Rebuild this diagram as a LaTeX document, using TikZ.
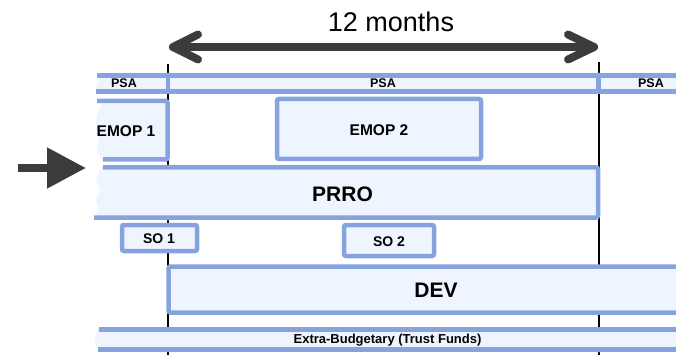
\documentclass[tikz,border=0pt]{standalone}
\usepackage{fontspec}
\setmainfont{Liberation Sans}
\usetikzlibrary{arrows.meta}
\definecolor{edge}{RGB}{134,163,224}
\definecolor{pale}{RGB}{238,245,254}
\definecolor{ink}{RGB}{60,60,60}

\begin{document}
\begin{tikzpicture}[x=1pt,y=-1pt,
  bar/.style={draw=edge,line width=4.5pt,fill=pale,rounded corners=2pt},
  rim/.style={draw=edge,line width=4.5pt,rounded corners=2pt},
  lbl/.style={font=\bfseries\fontsize{#1}{#1}\selectfont,inner sep=0pt,anchor=center},
  guide/.style={black,line width=1.3pt},
  span/.style={ink,line width=8pt,line cap=round,line join=round}]
\useasboundingbox (0,0) rectangle (676,355);

% year boundaries
\coordinate (g1t) at (168,64);  \coordinate (g1b) at (168,356);
\coordinate (g2t) at (599,62);  \coordinate (g2b) at (599,356);
\draw[guide] (g1t) -- (g1b);
\draw[guide] (g2t) -- (g2b);

% 12 months span
\coordinate (m1) at (173,47);
\coordinate (m2) at (594,47);
\draw[span] (m1) -- (m2);
\draw[span] (m1) ++(25,-12.5) -- (m1) -- ++(25,12.5);
\draw[span] (m2) ++(-26,-12.5) -- (m2) -- ++(-26,12.5);
\node[font=\fontsize{27}{27}\selectfont,inner sep=0pt] (months) at (391,22) {12 months};

% PSA row
\fill[pale] plot[smooth] coordinates {(97,73) (99,80) (96,87) (96,94)} -- (690,94) -- (690,73) -- cycle;
\draw[rim] (97,75.5) -- (690,75.5);
\draw[rim] (96,91.5) -- (690,91.5);
\draw[rim] (168,75.5) -- (168,91.5);
\draw[rim] (598.5,75.5) -- (598.5,91.5);
\node[lbl=12.5] (psa1) at (124,83.5) {PSA};
\node[lbl=12.5] (psa2) at (383,83.5) {PSA};
\node[lbl=12.5] (psa3) at (651,83.5) {PSA};

% EMOP 1 (continued from the previous period)
\fill[pale] plot[smooth] coordinates {(98,99) (101,106) (97,115) (96,128) (99,140) (97,150) (102,161)} -- (167,161) -- (167,99) -- cycle;
\draw[rim] (97,101) -- (167.5,101) -- (167.5,159.5) -- (103,159.5);
\node[lbl=15.5] (emop1) at (126,131) {EMOP 1};

% EMOP 2
\draw[bar] (277,99) rectangle (481,159);
\node[lbl=15.5] (emop2) at (379,130) {EMOP 2};

% PRRO
\fill[pale] plot[smooth] coordinates {(103,165) (99,172) (96,181) (100,190) (96,199) (98,208) (94,220)} -- (598,220) -- (598,165) -- cycle;
\draw[rim] (103,167.5) -- (598,167.5) -- (598,217.5) -- (94,217.5);
\node[lbl=21] (prro) at (342.5,194) {PRRO};

% entry arrow
\coordinate (entry) at (18,168);
\coordinate (entrytip) at (86,168);
\draw[ink,line width=8pt,-{Triangle[length=39pt,width=39pt]}] (entry) -- (entrytip);

% special operations
\draw[bar] (122,225) rectangle (197,251);
\node[lbl=14] (so1) at (159,239) {SO 1};
\draw[bar] (344,225) rectangle (434,256);
\node[lbl=14] (so2) at (389,241.5) {SO 2};

% DEV
\fill[pale] (168.5,266.5) rectangle (690,312.5);
\draw[rim] (690,266.5) -- (168.5,266.5) -- (168.5,312.5) -- (690,312.5);
\node[lbl=21] (dev) at (436,290.5) {DEV};

% trust funds
\fill[pale] plot[smooth] coordinates {(99,327) (96,333) (95,340) (97,346) (99,352)} -- (690,352) -- (690,327) -- cycle;
\draw[rim] (99,329.5) -- (690,329.5);
\draw[rim] (98,349.5) -- (690,349.5);
\node[lbl=13] (trust) at (387.5,340.5) {Extra-Budgetary (Trust Funds)};
\end{tikzpicture}
\end{document}
